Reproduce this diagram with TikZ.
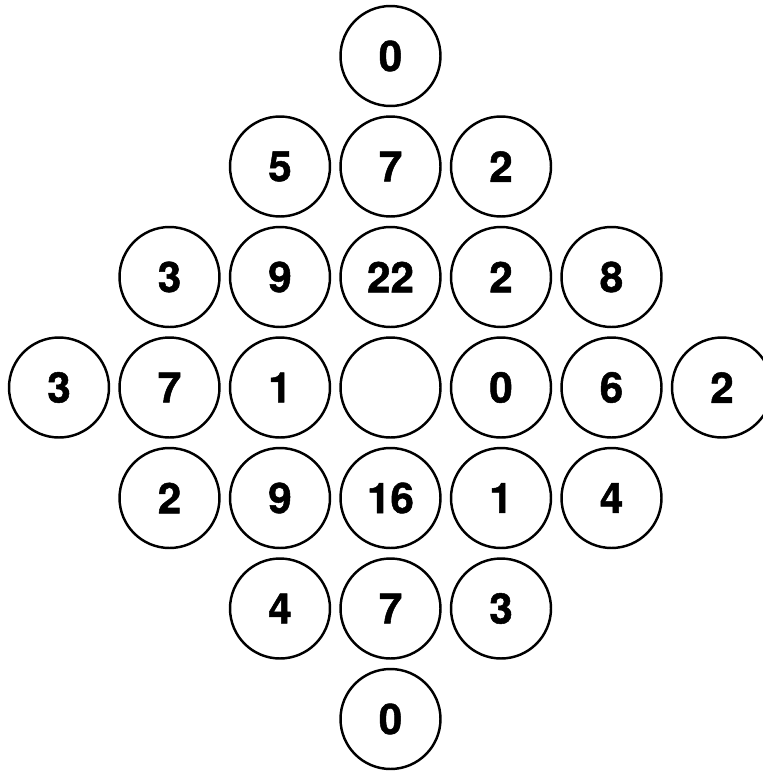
\documentclass[tikz,border=0pt]{standalone}
\usepackage{fontspec}
\setmainfont{TeX Gyre Heros}
\newfontfamily\digitfont[FakeBold=1.2]{TeX Gyre Heros Bold}
\usetikzlibrary{positioning}

\begin{document}
\begin{tikzpicture}[
  x=0.02cm, y=-0.02cm,
  cell/.style={circle, draw, line width=1.4pt, minimum size=2cm, inner sep=0pt,
               font=\fontsize{24}{28}\digitfont}
]
\useasboundingbox (0,0) rectangle (762,771);
% ----- diamond of circles, row/column/value -----
\foreach \r/\c/\v in {0/3/0,
                      1/2/5, 1/3/7, 1/4/2,
                      2/1/3, 2/2/9, 2/3/22, 2/4/2, 2/5/8,
                      3/0/3, 3/1/7, 3/2/1, 3/3/{}, 3/4/0, 3/5/6, 3/6/2,
                      4/1/2, 4/2/9, 4/3/16, 4/4/1, 4/5/4,
                      5/2/4, 5/3/7, 5/4/3,
                      6/3/0}{
  \node[cell] (r\r c\c) at ({59+110.5*\c},{56+110.5*\r}) {\v};
}
\end{tikzpicture}
\end{document}
